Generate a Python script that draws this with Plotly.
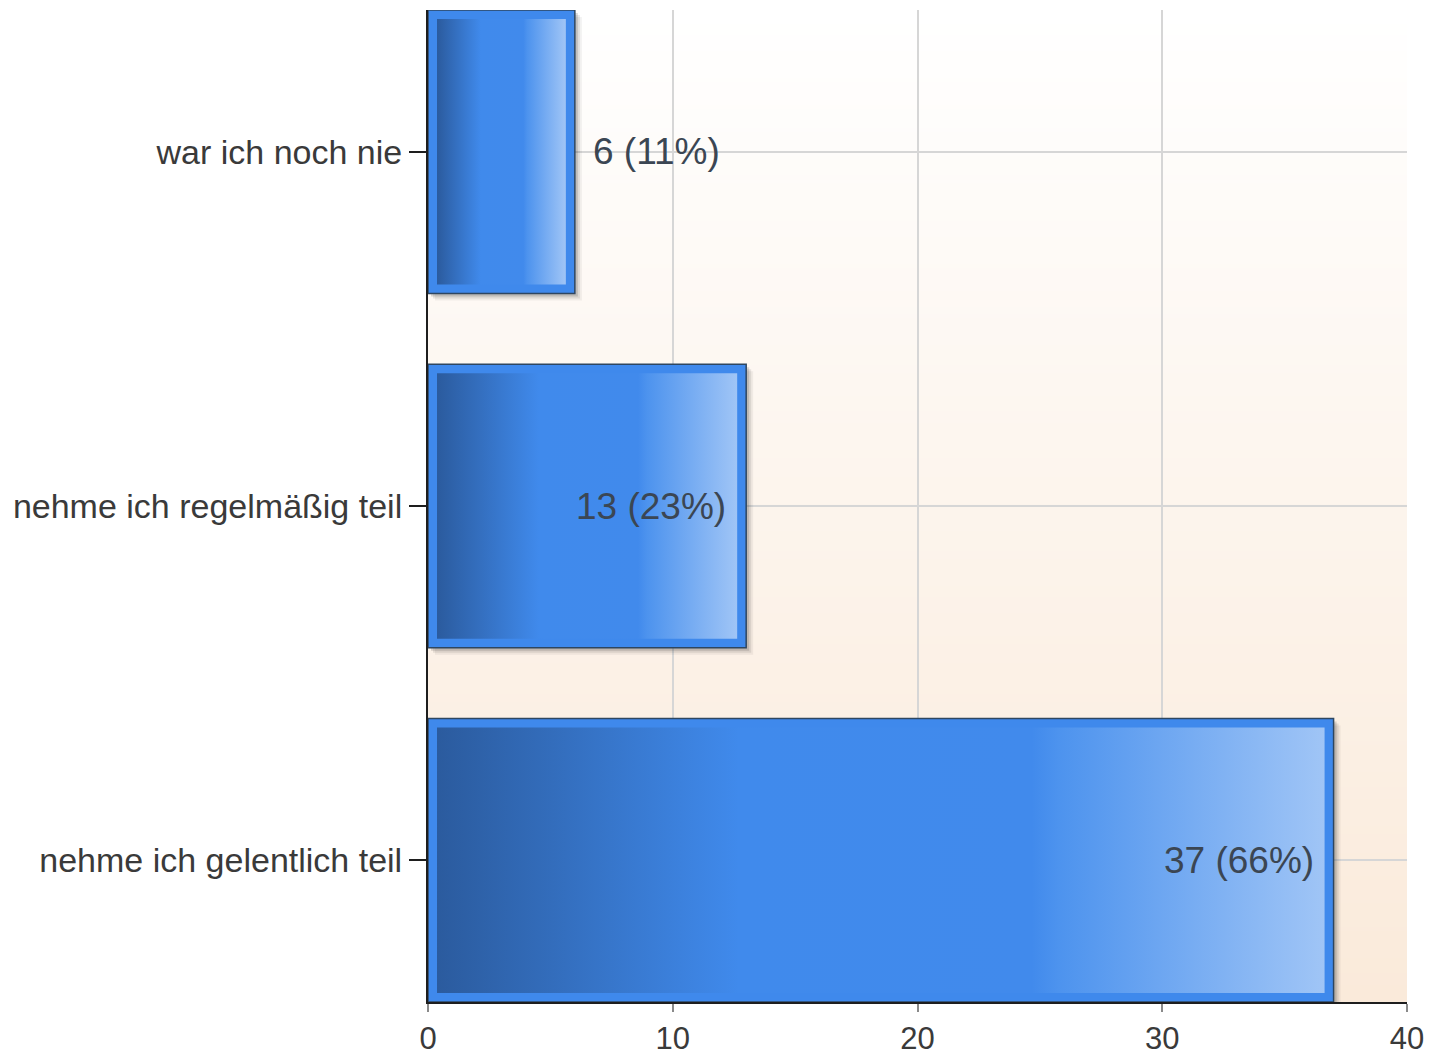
import base64, struct, zlib
import plotly.graph_objects as go

# ---- data ----
categories = ["nehme ich gelentlich teil", "nehme ich regelmäßig teil", "war ich noch nie"]
values = [37, 13, 6]
x_ticks = [0, 10, 20, 30, 40]

total = sum(values)

# ---- geometry helpers (pixel -> data conversions) ----
W, H = 1429, 1057
ML, MR, MT, MB = 428, 22, 10, 55
XR = [0, 40]
YR = [-0.4, 2.4]
px_x = (W - ML - MR) / (XR[1] - XR[0])
px_y = (H - MT - MB) / (YR[1] - YR[0])
HALF = 0.4


def gradient_png(top, bottom, h=256):
    rows = b""
    for r in range(h):
        t = r / (h - 1)
        c = bytes(int(round(top[k] + (bottom[k] - top[k]) * t)) for k in range(3))
        rows += b"\x00" + c
    def chunk(tag, data):
        return struct.pack(">I", len(data)) + tag + data + struct.pack(">I", zlib.crc32(tag + data) & 0xFFFFFFFF)
    png = b"\x89PNG\r\n\x1a\n"
    png += chunk(b"IHDR", struct.pack(">IIBBBBB", 1, h, 8, 2, 0, 0, 0))
    png += chunk(b"IDAT", zlib.compress(rows))
    png += chunk(b"IEND", b"")
    return "data:image/png;base64," + base64.b64encode(png).decode()


def rect(x0, x1, y0, y1):
    return [x0, x1, x1, x0, x0], [y0, y0, y1, y1, y0]


fig = go.Figure()

bar_scale = [
    [0.0, "#2b5b9e"],
    [0.34, "#408aec"],
    [0.67, "#418aec"],
    [0.70, "#4d93ee"],
    [1.0, "#a0c5f6"],
]

for i, v in enumerate(values):
    # shadow
    for d, a in [(7, 0.06), (5, 0.10), (3, 0.16)]:
        dx, dy = d / px_x, d / px_y
        xs, ys = rect(dx, v + dx, i - HALF - dy, i + HALF - dy)
        fig.add_trace(go.Scatter(x=xs, y=ys, mode="lines", fill="toself",
                                 fillcolor=f"rgba(40,40,40,{a})", line=dict(width=0),
                                 hoverinfo="skip", showlegend=False))
    # outer border
    xs, ys = rect(0, v, i - HALF, i + HALF)
    fig.add_trace(go.Scatter(x=xs, y=ys, mode="lines", fill="toself",
                             fillcolor="#3f89ec", line=dict(width=1.5, color="#2e4660"),
                             hoverinfo="skip", showlegend=False))
    # inner gradient
    ix, iy = 9 / px_x, 9 / px_y
    xs, ys = rect(ix, v - ix, i - HALF + iy, i + HALF - iy)
    fig.add_trace(go.Scatter(x=xs, y=ys, mode="lines", fill="toself",
                             fillgradient=dict(type="horizontal", colorscale=bar_scale),
                             line=dict(width=0),
                             hoverinfo="skip", showlegend=False))

label_font = dict(family="Liberation Sans, Arial, sans-serif", size=37, color="#3b4653")
for i, v in enumerate(values):
    txt = f"{v} ({round(100 * v / total)}%)"
    inside = v * px_x > 220
    fig.add_annotation(x=v, y=i, text=txt, showarrow=False,
                       xanchor="right" if inside else "left",
                       xshift=-18 if inside else 16, yshift=0,
                       font=label_font)

tick_font = dict(family="Liberation Sans, Arial, sans-serif", size=31, color="#3a3a3a")

fig.update_layout(
    width=W, height=H, autosize=False,
    margin=dict(l=ML, r=MR, t=MT, b=MB, autoexpand=False),
    paper_bgcolor="white",
    plot_bgcolor="rgba(0,0,0,0)",
    showlegend=False,
    images=[dict(source=gradient_png((255, 255, 255), (250, 234, 218)),
                 xref="paper", yref="paper", x=0, y=1, sizex=1, sizey=1,
                 xanchor="left", yanchor="top", sizing="stretch", layer="below")],
    xaxis=dict(range=XR, tickvals=x_ticks, ticktext=[str(t) for t in x_ticks],
               showgrid=True, gridcolor="#d6d6d6", gridwidth=1.5,
               showline=True, linecolor="#1e1e1e", linewidth=2,
               ticks="outside", ticklen=8, tickwidth=1.5, tickcolor="#8a8a8a",
               tickfont=tick_font, zeroline=False, fixedrange=True, automargin=False),
    yaxis=dict(range=YR, tickvals=list(range(len(categories))), ticktext=categories,
               showgrid=True, gridcolor="#d6d6d6", gridwidth=1.5,
               showline=True, linecolor="#1e1e1e", linewidth=2,
               ticks="outside", ticklen=17, tickwidth=2, tickcolor="#1e1e1e",
               tickfont=dict(family="Liberation Sans, Arial, sans-serif", size=34, color="#3a3a3a"),
               zeroline=False, fixedrange=True, automargin=False),
)

fig.write_html("out.html", config={"displayModeBar": False},
               post_script="document.body.style.margin='0px';document.body.style.overflow='hidden';")
